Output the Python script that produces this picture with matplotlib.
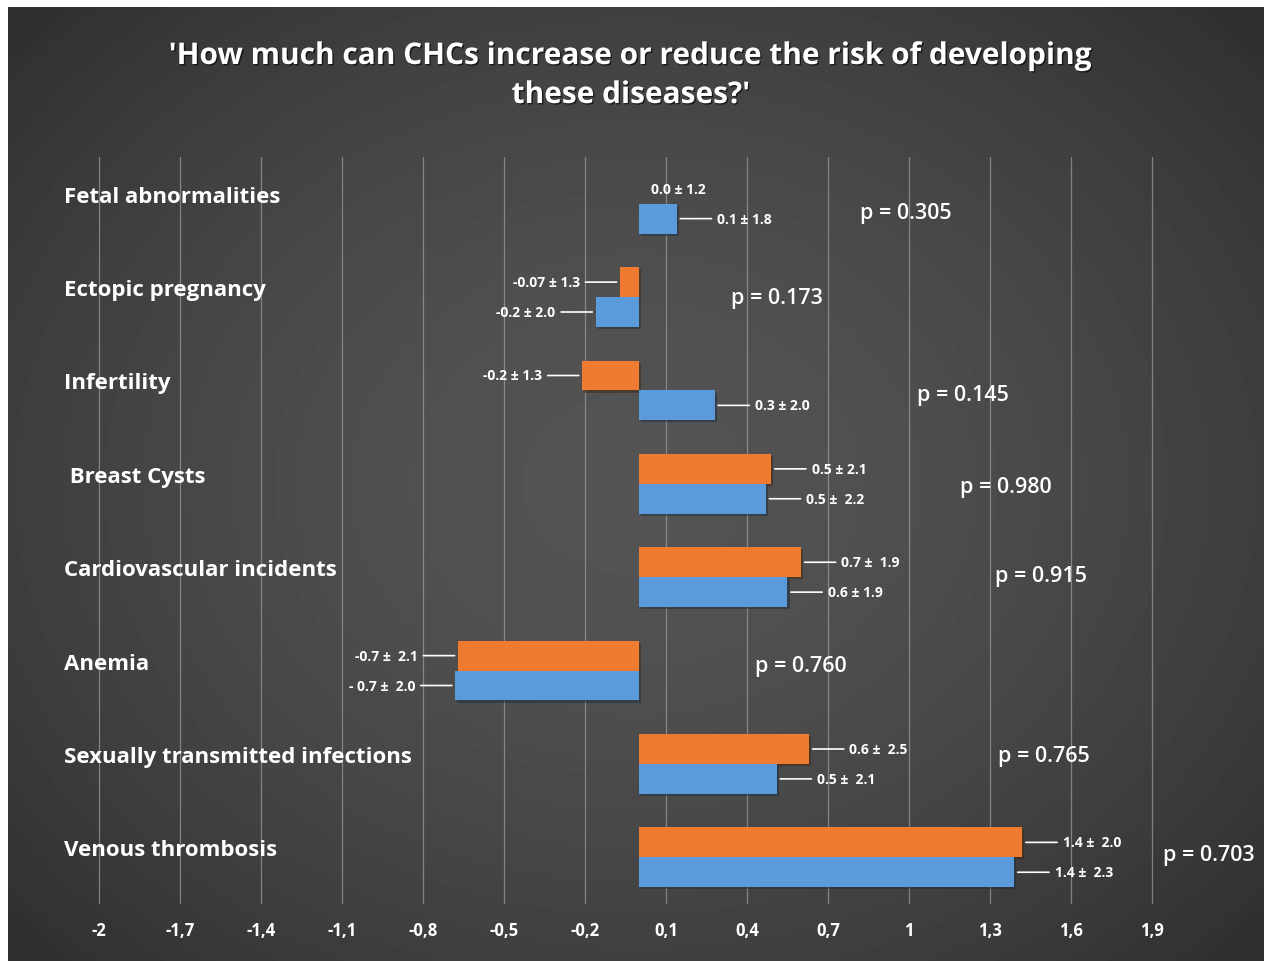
import numpy as np
import matplotlib
matplotlib.use("Agg")
import matplotlib.pyplot as plt
import matplotlib.patheffects as pe

# data
diseases = ["Fetal abnormalities", "Ectopic pregnancy", "Infertility", " Breast Cysts",
            "Cardiovascular incidents", "Anemia", "Sexually transmitted infections",
            "Venous thrombosis"]
orange_vals = [0.0, -0.07, -0.21, 0.49, 0.60, -0.67, 0.63, 1.42]
blue_vals = [0.14, -0.16, 0.28, 0.47, 0.55, -0.68, 0.51, 1.39]
orange_labels = ["0.0 \u00b1 1.2", "-0.07 \u00b1 1.3", "-0.2 \u00b1 1.3", "0.5 \u00b1 2.1",
                 "0.7 \u00b1  1.9", "-0.7 \u00b1  2.1", "0.6 \u00b1  2.5", "1.4 \u00b1  2.0"]
blue_labels = ["0.1 \u00b1 1.8", "-0.2 \u00b1 2.0", "0.3 \u00b1 2.0", "0.5 \u00b1  2.2",
               "0.6 \u00b1 1.9", "- 0.7 \u00b1  2.0", "0.5 \u00b1  2.1", "1.4 \u00b1  2.3"]
p_values = ["p = 0.305", "p = 0.173", "p = 0.145", "p = 0.980",
            "p = 0.915", "p = 0.760", "p = 0.765", "p = 0.703"]
tick_vals = [-2, -1.7, -1.4, -1.1, -0.8, -0.5, -0.2, 0.1, 0.4, 0.7, 1, 1.3, 1.6, 1.9]
tick_labels = ["-2", "-1,7", "-1,4", "-1,1", "-0,8", "-0,5", "-0,2", "0,1", "0,4",
               "0,7", "1", "1,3", "1,6", "1,9"]

# layout: where the p-value texts sit (x in axis units, y nudge in rows)
p_x = [0.82, 0.34, 1.03, 1.19, 1.32, 0.43, 1.33, 1.94]
p_dy = [0.09, 0.0, 0.04, 0.03, -0.02, -0.05, -0.09, -0.03]

W, H = 1264, 962
fig = plt.figure(figsize=(W / 100, H / 100), dpi=100, facecolor="white")

# dark radial background
bg = fig.add_axes([8 / W, 0, 1 - 8 / W, 1 - 8 / H])
yy, xx = np.mgrid[0:1:300j, 0:1:400j]
r = np.sqrt(((xx - 0.5) / 0.75) ** 2 + ((yy - 0.5) / 0.8) ** 2)
shade = np.clip(0.33 - 0.17 * r ** 1.6, 0.15, 0.35)
bg.imshow(shade, cmap="gray", vmin=0, vmax=1, aspect="auto", extent=[0, 1, 0, 1])
bg.axis("off")

font = ["Open Sans", "DejaVu Sans"]
white = "white"
shadow = [pe.withSimplePatchShadow(offset=(1, -1), shadow_rgbFace="black", alpha=0.6)]

fig.text(631 / W, 1 - 57 / H, "'How much can CHCs increase or reduce the risk of developing",
         ha="center", va="center", color=white, fontsize=21.5, fontweight="bold",
         family=font, path_effects=shadow)
fig.text(631 / W, 1 - 96 / H, "these diseases?'", ha="center", va="center", color=white,
         fontsize=21.5, fontweight="bold", family=font, path_effects=shadow)

ax_left, ax_right = 60, 1230
ax_top, ax_bottom = 158, 905
ax = fig.add_axes([ax_left / W, 1 - ax_bottom / H, (ax_right - ax_left) / W,
                   (ax_bottom - ax_top) / H])
ax.patch.set_alpha(0)
x0 = (ax_left - 639) / 270
x1 = (ax_right - 639) / 270
ax.set_xlim(x0, x1)
ax.set_ylim(len(diseases) - 0.5, -0.5)

for t in tick_vals:
    ax.axvline(t, color="#a0a0a0", lw=0.9, alpha=0.7, zorder=0)

y = np.arange(len(diseases))
bh = 0.32
bar_fx = [pe.withSimplePatchShadow(offset=(1.5, -1.5), alpha=0.5)]
ax.barh(y - bh / 2, orange_vals, height=bh, color="#ee7b30", lw=0, zorder=2,
        path_effects=bar_fx)
ax.barh(y + bh / 2, blue_vals, height=bh, color="#5b9bdc", lw=0, zorder=2,
        path_effects=bar_fx)


def value_label(v, yc, text):
    if v == 0:
        ax.annotate(text, (v, yc), xytext=(9, 0), textcoords="offset points",
                    ha="left", va="center", color=white, fontsize=10, fontweight="bold",
                    family=font)
        return
    sign = 1 if v > 0 else -1
    ax.annotate("", (v, yc), xytext=(sign * 25, 0), textcoords="offset points",
                arrowprops=dict(arrowstyle="-", color="white", lw=1.2,
                                shrinkA=0, shrinkB=2.5))
    ax.annotate(text, (v, yc), xytext=(sign * 29, 0), textcoords="offset points",
                ha="left" if sign > 0 else "right", va="center", color=white,
                fontsize=10, fontweight="bold", family=font)


for i in range(len(diseases)):
    value_label(orange_vals[i], y[i] - bh / 2, orange_labels[i])
    value_label(blue_vals[i], y[i] + bh / 2, blue_labels[i])
    ax.text(p_x[i], y[i] + p_dy[i], p_values[i], ha="left", va="center", color=white,
            fontsize=15.5, fontweight="semibold", family=font)
    ax.text((64 - ax_left) / (ax_right - ax_left), y[i] - 0.08, diseases[i],
            transform=ax.get_yaxis_transform(), ha="left", va="center", color=white,
            fontsize=16, fontweight="bold", family=font)

ax.set_yticks([])
ax.set_xticks(tick_vals)
ax.set_xticklabels(tick_labels, color=white, fontsize=12, fontweight="bold", family=font)
ax.tick_params(axis="x", length=0, pad=12)
for s in ax.spines.values():
    s.set_visible(False)

fig.savefig("out.png", dpi=100, facecolor=fig.get_facecolor())
